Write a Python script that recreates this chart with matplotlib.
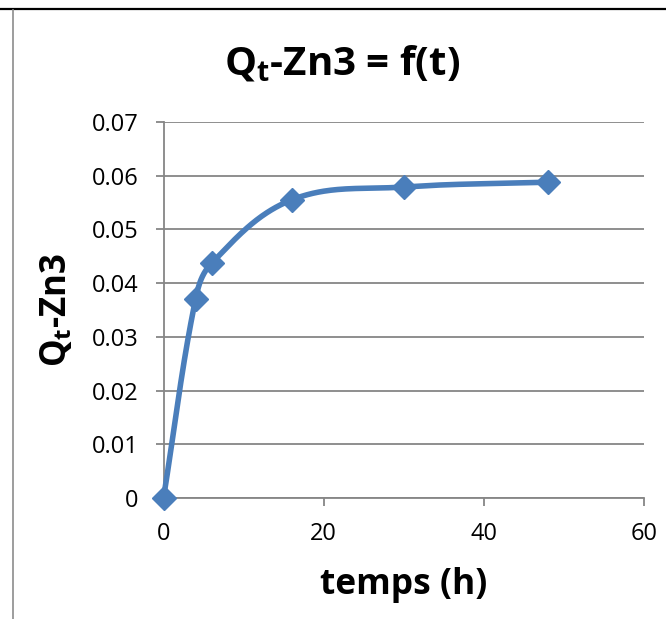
import numpy as np
import matplotlib
matplotlib.use("Agg")
import matplotlib.pyplot as plt
from matplotlib.lines import Line2D

# Adsorbed quantity of Zn3 versus contact time
t_hours = [0, 4, 6, 16, 30, 48]
qt_zn3 = [0.0, 0.037, 0.0437, 0.0555, 0.0579, 0.0588]

x_ticks = [0, 20, 40, 60]
x_tick_labels = ["0", "20", "40", "60"]
y_ticks = [0, 0.01, 0.02, 0.03, 0.04, 0.05, 0.06, 0.07]
y_tick_labels = ["0", "0.01", "0.02", "0.03", "0.04", "0.05", "0.06", "0.07"]

plt.rcParams["font.family"] = ["Open Sans", "DejaVu Sans"]
plt.rcParams["mathtext.fontset"] = "custom"
plt.rcParams["mathtext.rm"] = "Open Sans"
plt.rcParams["mathtext.bf"] = "Open Sans:bold"
plt.rcParams["mathtext.it"] = "Open Sans:italic"

blue = "#4A7EBB"
grid_gray = "#868686"

fig = plt.figure(figsize=(6.66, 6.19), dpi=100)
W, H = 666, 619
ax = fig.add_axes([163.5 / W, 1 - 498 / H, (644 - 163.5) / W, (498 - 122) / H])
ax.set_xlim(0, 60)
ax.set_ylim(0, 0.07)

ax.set_xticks(x_ticks)
ax.set_xticklabels(x_tick_labels)
ax.set_yticks(y_ticks)
ax.set_yticklabels(y_tick_labels)
ax.tick_params(axis="both", which="major", labelsize=17, colors=grid_gray,
               labelcolor="black", length=6, width=1.3, direction="out")
ax.tick_params(axis="x", pad=11)
ax.tick_params(axis="y", pad=12)
ax.yaxis.grid(True, color=grid_gray, linewidth=1.3)
ax.set_axisbelow(True)
for side in ("top", "right"):
    ax.spines[side].set_visible(False)
for side in ("left", "bottom"):
    ax.spines[side].set_color(grid_gray)
    ax.spines[side].set_linewidth(1.3)

# Smoothed curve: cubic Bezier segments in display space, with tangent
# handles scaled to each segment's own length to avoid overshoot
pts = ax.transData.transform(np.column_stack([t_hours, qt_zn3]))
n = len(pts)


def unit_tangent(i):
    d = pts[min(i + 1, n - 1)] - pts[max(i - 1, 0)]
    return d / np.hypot(*d)


curve = []
for i in range(n - 1):
    p1, p2 = pts[i], pts[i + 1]
    seg_len = np.hypot(*(p2 - p1))
    c1 = p1 + unit_tangent(i) * seg_len * 0.36
    c2 = p2 - unit_tangent(i + 1) * seg_len * 0.36
    s = np.linspace(0, 1, 80)[:, None]
    seg = ((1 - s) ** 3) * p1 + 3 * ((1 - s) ** 2) * s * c1 + 3 * (1 - s) * s ** 2 * c2 + s ** 3 * p2
    curve.append(seg if i == 0 else seg[1:])
curve = np.vstack(curve)
curve_data = ax.transData.inverted().transform(curve)
ax.plot(curve_data[:, 0], curve_data[:, 1], color=blue, linewidth=4,
        solid_capstyle="round", solid_joinstyle="round", clip_on=False, zorder=3)
ax.plot(t_hours, qt_zn3, linestyle="none", marker="D", markersize=12.5,
        color=blue, clip_on=False, zorder=4)

fig.text(342 / W, 1 - 64 / H, r"Q$_\mathbf{t}$-Zn3 = f(t)", ha="center", va="center",
         fontsize=29, fontweight="bold")
fig.text(57 / W, 1 - 310 / H, r"Q$_\mathbf{t}$-Zn3", ha="center", va="center",
         rotation=90, fontsize=25, fontweight="bold")
fig.text(403.5 / W, 1 - 585 / H, "temps (h)", ha="center", va="center",
         fontsize=25.5, fontweight="bold")

# Chart-area border pieces
fig.add_artist(Line2D([0, 1], [1 - 8.5 / H, 1 - 8.5 / H], color="black",
                      linewidth=1.6, transform=fig.transFigure))
fig.add_artist(Line2D([13 / W, 13 / W], [0, 1 - 9.5 / H], color="#8C8C8C",
                      linewidth=1.2, transform=fig.transFigure))

fig.savefig("out.png", dpi=100)
